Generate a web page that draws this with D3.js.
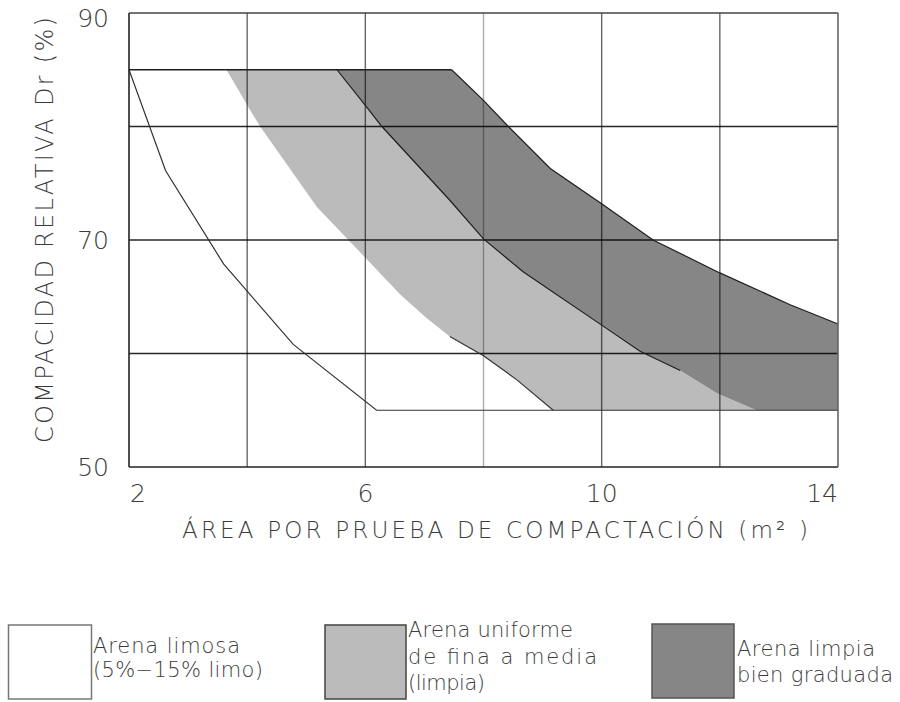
<!DOCTYPE html>
<html>
<head>
<meta charset="utf-8">
<script src="https://cdn.jsdelivr.net/npm/d3@7"></script>
<style>
  html, body { margin: 0; padding: 0; background: #fff; }
  svg text { font-family: "DejaVu Sans", "Liberation Sans", sans-serif; font-weight: 200; fill: #3c3c3c; }
</style>
</head>
<body>
<svg id="chart" width="900" height="702"></svg>
<script>
// Axis ticks and grid
const xTicks = [2, 6, 10, 14];
const yTicks = [50, 70, 90];
const xGrid = [4, 6, 8, 10, 12];
const yGrid = [60, 70, 80];

// Boundaries of each sand zone: [area m², Dr %]
const limosaLine = [[2, 85], [2.62, 76.1], [3.60, 67.9], [4.78, 60.8], [6.19, 55], [14, 55]];
const topLine = [[2, 85], [7.46, 85]];
const uniformeLeft = [[3.65, 85], [4.01, 81.8], [4.22, 80.0], [5.18, 72.9], [5.88, 69.1], [6.59, 65.2],
                      [7.04, 63.1], [7.43, 61.5], [8.0, 59.8], [8.56, 57.7], [9.18, 55]];
const limpiaLeft = [[5.52, 85], [6.01, 81.8], [6.28, 80.0], [7.43, 73.5], [8.0, 70.1], [8.67, 67.2],
                    [10.0, 62.5], [10.65, 60.2], [11.33, 58.5], [11.95, 56.5], [12.62, 55]];
const limpiaUpper = [[7.46, 85], [8.0, 82.3], [8.42, 80], [9.13, 76.3], [10.0, 73.2], [10.87, 70],
                     [12.0, 67.1], [13.19, 64.3], [14, 62.6]];

// Legend
const legendFills = ["#ffffff", "#bbbbbb", "#868686"];
const legendLabels = [
  ["Arena limosa", "(5%−15% limo)"],
  ["Arena uniforme", "de fina a media", "(limpia)"],
  ["Arena limpia", "bien graduada"]
];

const svg = d3.select("#chart");
const plot = { left: 129, right: 838, top: 13, bottom: 467 };

const x = d3.scaleLinear().domain([2, 14]).range([plot.left, plot.right]);
const y = d3.scaleLinear().domain([50, 90]).range([plot.bottom, plot.top]);
const line = d3.line().x(d => x(d[0])).y(d => y(d[1]));

// Light band: uniform fine-to-medium sand
const lightPoly = uniformeLeft.concat([[limpiaLeft[limpiaLeft.length - 1][0], 55]], limpiaLeft.slice().reverse());
svg.append("path").attr("d", line(lightPoly) + "Z").attr("fill", legendFills[1]);

// Dark band: clean well-graded sand
const darkPoly = limpiaLeft.concat([[14, 55]], limpiaUpper.slice().reverse());
svg.append("path").attr("d", line(darkPoly) + "Z").attr("fill", legendFills[2]);

// Grid
const grid = svg.append("g");
grid.selectAll("line.v").data(xGrid).join("line")
  .attr("x1", d => x(d)).attr("x2", d => x(d))
  .attr("y1", y(90)).attr("y2", y(50))
  .attr("stroke", "#000")
  .attr("stroke-opacity", d => d === 8 ? 0.32 : 0.6)
  .attr("stroke-width", 1.4);
grid.selectAll("line.h").data(yGrid).join("line")
  .attr("x1", x(2)).attr("x2", x(14))
  .attr("y1", d => y(d)).attr("y2", d => y(d))
  .attr("stroke", "#000").attr("stroke-opacity", 0.85).attr("stroke-width", 1.3);

// Zone boundary lines
const lines = svg.append("g").attr("fill", "none").attr("stroke", "#1e1e1e").attr("stroke-width", 1.2);
lines.append("path").attr("d", line(limosaLine)).attr("stroke", "#333");
lines.append("path").attr("d", line(topLine)).attr("stroke-width", 1.4);
lines.append("path").attr("d", line(limpiaLeft.slice(0, 9)));
lines.append("path").attr("d", line(limpiaUpper));
lines.append("path").attr("d", line(uniformeLeft.slice(7))).attr("stroke", "#333");

// Frame
const frame = svg.append("g").attr("stroke-width", 1.6);
frame.append("line").attr("x1", x(2)).attr("x2", x(2)).attr("y1", y(90)).attr("y2", y(50)).attr("stroke", "#222");
frame.append("line").attr("x1", x(2)).attr("x2", x(14)).attr("y1", y(50)).attr("y2", y(50)).attr("stroke", "#222");
frame.append("line").attr("x1", x(2)).attr("x2", x(14)).attr("y1", y(90)).attr("y2", y(90)).attr("stroke", "#444");
frame.append("line").attr("x1", x(14)).attr("x2", x(14)).attr("y1", y(90)).attr("y2", y(50)).attr("stroke", "#666");

// Tick labels
svg.append("g").selectAll("text").data(xTicks).join("text")
  .attr("x", d => x(d))
  .attr("y", y(50) + 35)
  .attr("font-size", 25)
  .attr("text-anchor", (d, i) => i === 0 ? "start" : (i === xTicks.length - 1 ? "end" : "middle"))
  .attr("dx", (d, i) => i === 0 ? 1 : 0)
  .text(d => d);

svg.append("g").selectAll("text").data(yTicks).join("text")
  .attr("x", plot.left - 20)
  .attr("y", d => Math.max(y(d) + 9, 27))
  .attr("font-size", 25)
  .attr("text-anchor", "end")
  .text(d => d);

// Axis titles
svg.append("text")
  .attr("x", 182).attr("y", 538)
  .attr("font-size", 23)
  .attr("textLength", 626).attr("lengthAdjust", "spacing")
  .text("ÁREA POR PRUEBA DE COMPACTACIÓN (m² )");

svg.append("text")
  .attr("transform", "translate(53,230) rotate(-90)")
  .attr("text-anchor", "middle")
  .attr("font-size", 24)
  .attr("textLength", 426).attr("lengthAdjust", "spacing")
  .text("COMPACIDAD RELATIVA Dr (%)");

// Legend
const legendBoxes = [
  { x: 8.5, y: 625, w: 83, h: 74, stroke: "#777", tx: 93, base: 653, widths: [147, 170] },
  { x: 325, y: 625, w: 81, h: 74, stroke: "#444", tx: 408, base: 637, widths: [165, 189, 77] },
  { x: 652, y: 624, w: 82, h: 74, stroke: "#555", tx: 737, base: 656, widths: [138, 156] }
];
const lineGap = [24, 26.5, 26];
const lg = svg.append("g");
legendBoxes.forEach((b, i) => {
  lg.append("rect").attr("x", b.x).attr("y", b.y).attr("width", b.w).attr("height", b.h)
    .attr("fill", legendFills[i]).attr("stroke", b.stroke).attr("stroke-width", 1.5);
  legendLabels[i].forEach((t, j) => {
    lg.append("text")
      .attr("x", b.tx).attr("y", b.base + j * lineGap[i])
      .attr("font-size", 21)
      .attr("textLength", b.widths[j]).attr("lengthAdjust", "spacing")
      .text(t);
  });
});
</script>
</body>
</html>
